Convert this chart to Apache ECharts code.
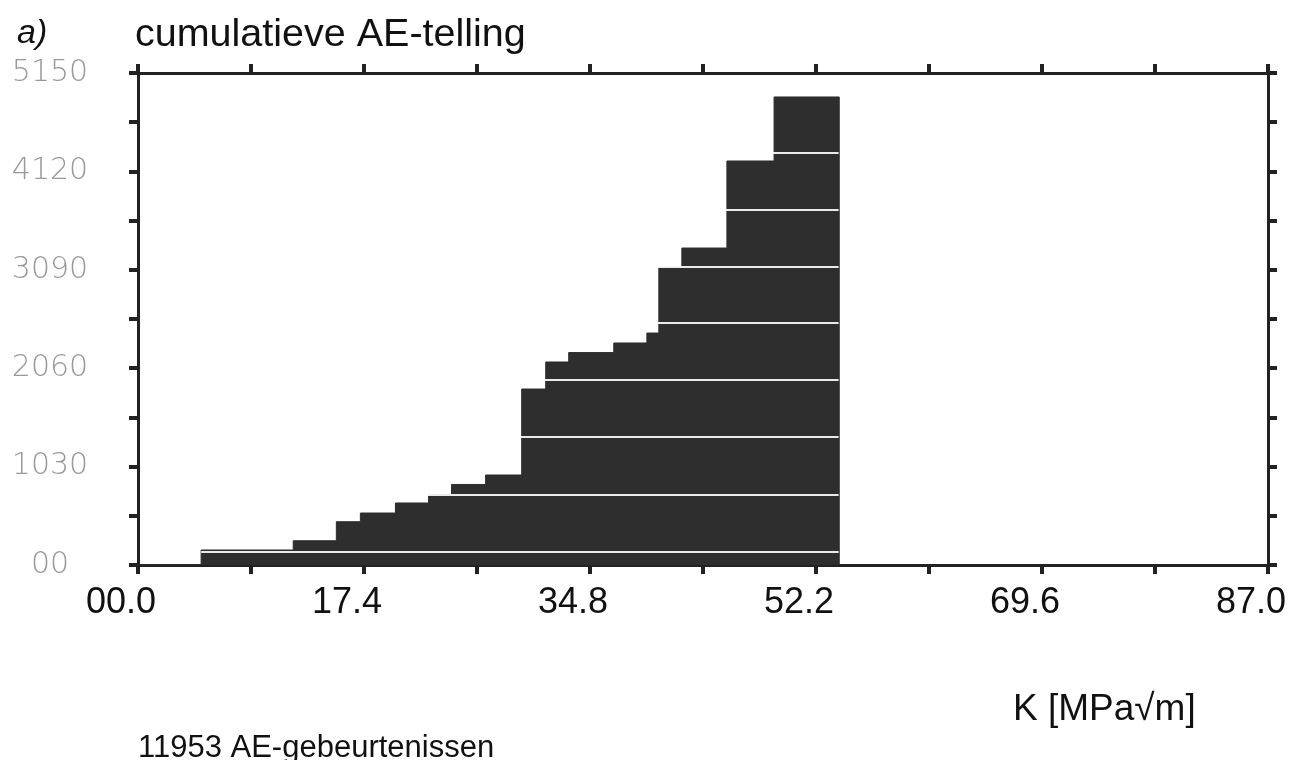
<!DOCTYPE html>
<html>
<head>
<meta charset="utf-8">
<script src="https://cdn.jsdelivr.net/npm/echarts@6/dist/echarts.min.js"></script>
<style>
html,body{margin:0;padding:0;background:#fff;}
#c{width:1311px;height:760px;}
</style>
</head>
<body>
<div id="c"></div>
<script>
// Left edge of each cumulative step, K [MPa√m]
const binStartK = [0, 4.86, 11.95, 15.27, 17.12, 19.82, 22.37, 24.14, 26.76, 29.54, 31.39, 33.16, 36.63, 39.18, 40.10, 41.87, 45.34, 48.97];
// Cumulative AE count for each step
const cumCount = [0, 157, 254, 453, 544, 649, 738, 843, 942, 1842, 2125, 2224, 2324, 2428, 3119, 3318, 4229, 4899];
// Last K value reached by the data
const endK = 53.99;
// Count levels of the thin white print-band gaps seen inside the filled area
const bandGapCounts = [136, 733, 1340, 1936, 2533, 3119, 3716, 4313];
// Axis ranges / ticks
const xMin = 0, xMax = 87, xLabelStep = 17.4;
const yMin = 0, yMax = 5150, yLabelStep = 1030;

const stepData = binStartK.map((k, i) => [k, cumCount[i]]);
stepData.push([endK, cumCount[cumCount.length - 1]]);
stepData.push([endK, 0]);

const ink = '#222';
const fill = '#2e2e2e';
const chart = echarts.init(document.getElementById('c'), null, {renderer: 'canvas'});

const axisBase = {
  type: 'value',
  axisLine: {show: true, onZero: false, lineStyle: {color: ink, width: 3}},
  splitLine: {show: false},
  axisTick: {show: true, length: 9, lineStyle: {color: ink, width: 4}},
  minorTick: {show: true, splitNumber: 2, length: 9, lineStyle: {color: ink, width: 4}}
};

chart.setOption({
  animation: false,
  backgroundColor: '#fff',
  title: [
    {text: 'a)', left: 12, top: 12, textStyle: {fontFamily: 'Liberation Sans', fontStyle: 'italic', fontWeight: 'normal', fontSize: 34, color: '#111'}},
    {text: 'cumulatieve AE-telling', left: 130, top: 10, textStyle: {fontFamily: 'Liberation Sans', fontWeight: 'normal', fontSize: 39.5, color: '#111'}},
    {text: 'K [MPa√m]', left: 1008, top: 686, textStyle: {fontFamily: 'Liberation Sans', fontWeight: 'normal', fontSize: 37, color: '#111'}},
    {text: '11953 AE-gebeurtenissen', left: 133, top: 728, textStyle: {fontFamily: 'Liberation Sans', fontWeight: 'normal', fontSize: 31, color: '#111'}}
  ],
  grid: {left: 138, right: 43, top: 73, bottom: 195, show: false},
  xAxis: [
    Object.assign({}, axisBase, {
      min: xMin, max: xMax, interval: xLabelStep, position: 'bottom',
      axisLabel: {
        show: true, margin: 20, align: 'center', padding: [0, 34, 0, 0],
        fontFamily: 'Liberation Sans', fontSize: 36, color: '#111',
        formatter: v => v === 0 ? '00.0' : v.toFixed(1)
      }
    }),
    Object.assign({}, axisBase, {
      min: xMin, max: xMax, interval: xLabelStep, position: 'top',
      axisLabel: {show: false}
    })
  ],
  yAxis: [
    Object.assign({}, axisBase, {
      min: yMin, max: yMax, interval: yLabelStep, position: 'left',
      axisLabel: {
        show: true, margin: 88, align: 'center',
        fontFamily: 'DejaVu Sans', fontWeight: 200, fontSize: 30, color: '#999',
        formatter: v => v === 0 ? '00' : String(v)
      }
    }),
    Object.assign({}, axisBase, {
      min: yMin, max: yMax, interval: yLabelStep, position: 'right',
      axisLabel: {show: false}
    })
  ],
  series: [{
    type: 'line',
    step: 'end',
    data: stepData,
    symbol: 'none',
    xAxisIndex: 0,
    yAxisIndex: 0,
    lineStyle: {color: fill, width: 1},
    areaStyle: {color: fill, opacity: 1},
    z: 1,
    markLine: {
      silent: true,
      symbol: 'none',
      label: {show: false},
      lineStyle: {color: '#fff', width: 2, type: 'solid', opacity: 0.9},
      data: bandGapCounts.map(c => [{coord: [binStartK[1], c]}, {coord: [endK - 0.05, c]}])
    }
  }]
});
</script>
</body>
</html>
